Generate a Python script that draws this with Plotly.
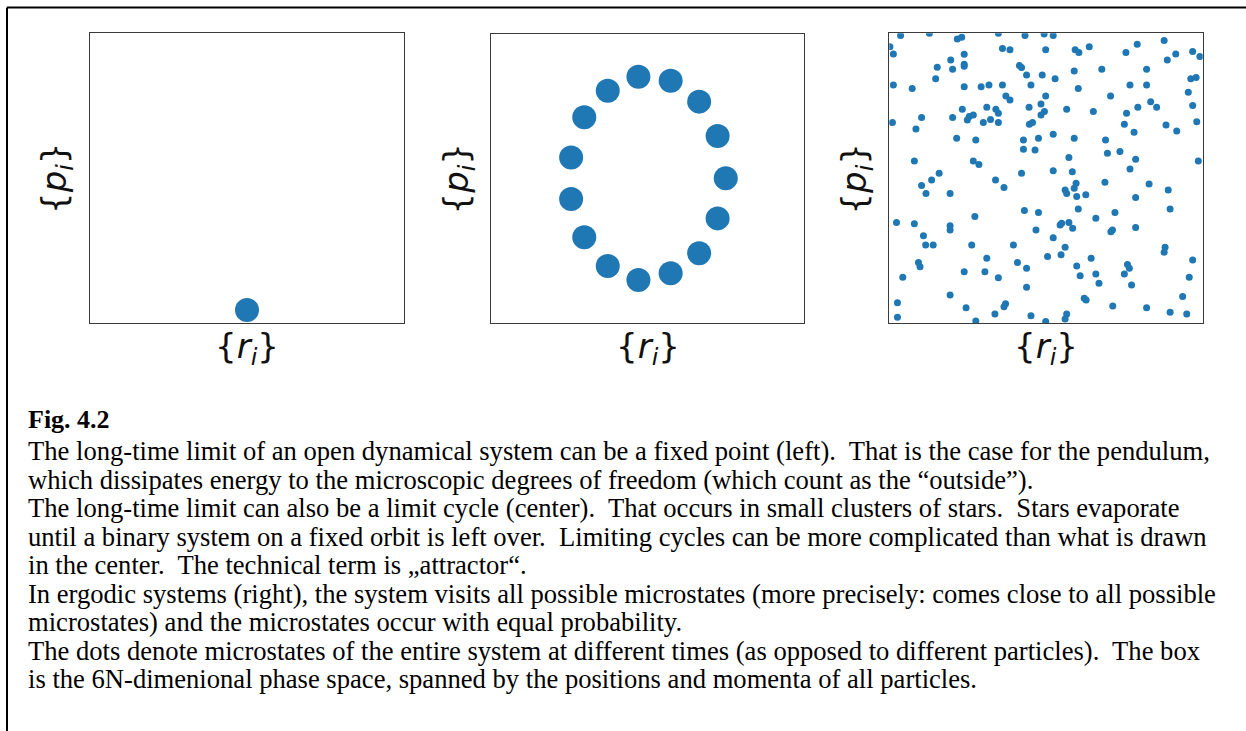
import plotly.graph_objects as go

W, H = 1246, 731

# ---------------- data ----------------
fixed_x = [0.50]
fixed_y = [0.045]

cycle_x = [0.471, 0.574, 0.665, 0.724, 0.750, 0.724, 0.665, 0.574, 0.471,
           0.373, 0.298, 0.256, 0.256, 0.298, 0.373]
cycle_y = [0.852, 0.838, 0.766, 0.647, 0.501, 0.362, 0.241, 0.172, 0.149,
           0.197, 0.297, 0.429, 0.573, 0.712, 0.804]

ergodic_x = [
    0.036, 0.128, 0.217, 0.231, 0.348, 0.433, 0.494, 0.523, 0.002, 0.013,
    0.361, 0.385, 0.499, 0.593, 0.605, 0.638, 0.755, 0.791, 0.877, 0.887,
    0.914, 0.968, 0.991, 0.239, 0.196, 0.239, 0.239, 0.153, 0.202, 0.415,
    0.422, 0.678, 0.821, 0.590, 0.438, 0.488, 0.148, 0.529, 0.013, 0.073,
    0.239, 0.293, 0.318, 0.361, 0.452, 0.603, 0.768, 0.821, 0.962, 0.979,
    0.954, 0.372, 0.385, 0.499, 0.706, 0.834, 0.853, 0.233, 0.311, 0.340,
    0.446, 0.484, 0.566, 0.651, 0.793, 0.968, 0.103, 0.202, 0.255, 0.268,
    0.249, 0.348, 0.323, 0.300, 0.348, 0.495, 0.484, 0.757, 0.010, 0.447,
    0.457, 0.750, 0.883, 0.981, 0.085, 0.917, 0.781, 0.523, 0.215, 0.276,
    0.428, 0.476, 0.590, 0.690, 0.428, 0.465, 0.696, 0.736, 0.573, 0.786,
    0.080, 0.268, 0.286, 0.986, 0.159, 0.422, 0.523, 0.584, 0.768,
    0.103, 0.135, 0.117, 0.339, 0.366, 0.194, 0.561, 0.566, 0.596, 0.590,
    0.598, 0.627, 0.688, 0.786, 0.829, 0.890, 0.896, 0.431, 0.476, 0.603,
    0.720, 0.023, 0.080, 0.194, 0.194, 0.273, 0.659, 0.109, 0.116, 0.140,
    0.263, 0.396, 0.468, 0.523, 0.545, 0.550, 0.573, 0.585, 0.707, 0.712,
    0.786, 0.880, 0.877, 0.561, 0.548, 0.505, 0.311, 0.093, 0.098, 0.409,
    0.438, 0.644, 0.598, 0.760, 0.766, 0.750, 0.968, 0.043, 0.239, 0.305,
    0.348, 0.609, 0.659, 0.669, 0.773, 0.957, 0.438, 0.194, 0.622, 0.628,
    0.936, 0.026, 0.245, 0.337, 0.366, 0.371, 0.452, 0.566, 0.561, 0.499,
    0.276, 0.713, 0.821, 0.896, 0.949, 0.026,
]
ergodic_y = [
    0.992, 1.000, 0.980, 0.986, 1.000, 0.992, 0.998, 0.992, 0.954, 0.929,
    0.948, 0.943, 0.943, 0.943, 0.934, 0.954, 0.934, 0.962, 0.975, 0.908,
    0.929, 0.937, 0.920, 0.928, 0.908, 0.893, 0.886, 0.883, 0.876, 0.889,
    0.882, 0.876, 0.876, 0.870, 0.856, 0.856, 0.843, 0.843, 0.822, 0.810,
    0.816, 0.816, 0.822, 0.822, 0.822, 0.810, 0.822, 0.822, 0.843, 0.848,
    0.797, 0.784, 0.770, 0.784, 0.784, 0.764, 0.745, 0.738, 0.745, 0.738,
    0.745, 0.756, 0.738, 0.730, 0.745, 0.751, 0.710, 0.710, 0.713, 0.718,
    0.701, 0.724, 0.703, 0.692, 0.692, 0.730, 0.718, 0.724, 0.692, 0.686,
    0.692, 0.686, 0.684, 0.695, 0.670, 0.663, 0.659, 0.652, 0.638, 0.632,
    0.632, 0.638, 0.638, 0.632, 0.600, 0.598, 0.586, 0.592, 0.572, 0.566,
    0.560, 0.560, 0.548, 0.560, 0.517, 0.517, 0.526, 0.523, 0.532,
    0.475, 0.494, 0.448, 0.494, 0.468, 0.448, 0.460, 0.448, 0.483, 0.466,
    0.437, 0.443, 0.486, 0.434, 0.480, 0.460, 0.394, 0.389, 0.382, 0.394,
    0.382, 0.348, 0.343, 0.336, 0.322, 0.368, 0.362, 0.302, 0.270, 0.270,
    0.270, 0.270, 0.322, 0.295, 0.339, 0.345, 0.348, 0.328, 0.316, 0.322,
    0.330, 0.262, 0.245, 0.262, 0.236, 0.230, 0.224, 0.210, 0.195, 0.210,
    0.190, 0.224, 0.198, 0.203, 0.190, 0.170, 0.218, 0.159, 0.178, 0.178,
    0.157, 0.164, 0.170, 0.138, 0.132, 0.159, 0.124, 0.098, 0.086, 0.080,
    0.092, 0.071, 0.054, 0.032, 0.057, 0.067, 0.026, 0.032, 0.015, 0.006,
    0.008, 0.060, 0.054, 0.038, 0.032, 0.021,
]

x_label = "{<i>r</i><sub><i>i</i></sub>}"
y_label = "{<i>p</i><sub><i>i</i></sub>}"

caption_title = "<b>Fig. 4.2</b>"
NB = "\u00a0 "
caption_lines = [
    "The long-time limit of an open dynamical system can be a fixed point (left)." + NB + "That is the case for the pendulum,",
    "which dissipates energy to the microscopic degrees of freedom (which count as the \u201coutside\u201d).",
    "The long-time limit can also be a limit cycle (center)." + NB + "That occurs in small clusters of stars." + NB + "Stars evaporate",
    "until a binary system on a fixed orbit is left over." + NB + "Limiting cycles can be more complicated than what is drawn",
    "in the center." + NB + "The technical term is \u201eattractor\u201c.",
    "In ergodic systems (right), the system visits all possible microstates (more precisely: comes close to all possible",
    "microstates) and the microstates occur with equal probability.",
    "The dots denote microstates of the entire system at different times (as opposed to different particles)." + NB + "The box",
    "is the 6N-dimenional phase space, spanned by the positions and momenta of all particles.",
]

# ---------------- layout helpers ----------------
def px(x):
    return x / W

def py(y):
    return 1 - y / H

BLUE = "#1f77b4"

panels = [  # (left, right, top, bottom) in pixels
    (90, 404, 33, 323),
    (491, 804, 34, 323),
    (889.3, 1202.7, 33.3, 323.3),
]

fig = go.Figure()

series = [
    (fixed_x, fixed_y, 24),
    (cycle_x, cycle_y, 24),
    (ergodic_x, ergodic_y, 7),
]

for i, ((xs, ys, sz), (l, r, t, b)) in enumerate(zip(series, panels), start=1):
    xa = "x" if i == 1 else f"x{i}"
    ya = "y" if i == 1 else f"y{i}"
    fig.add_trace(go.Scatter(
        x=xs, y=ys, mode="markers", xaxis=xa, yaxis=ya,
        marker=dict(color=BLUE, size=sz, line=dict(width=0)),
        showlegend=False, hoverinfo="skip", cliponaxis=True,
    ))
    axis_common = dict(showline=True, mirror=True, linecolor="#3a3a3a", linewidth=1.4,
                       showgrid=False, zeroline=False, showticklabels=False,
                       ticks="", range=[0, 1], fixedrange=True)
    key = "" if i == 1 else str(i)
    fig.update_layout(**{
        f"xaxis{key}": dict(domain=[px(l), px(r)], anchor=ya, **axis_common),
        f"yaxis{key}": dict(domain=[py(b), py(t)], anchor=xa, **axis_common),
    })
    # axis labels
    fig.add_annotation(x=px((l + r) / 2), y=py(348), xref="paper", yref="paper",
                       text=x_label, showarrow=False, xanchor="center", yanchor="middle",
                       font=dict(family="DejaVu Sans", size=34, color="#111"))
    fig.add_annotation(x=px(l - 33), y=py((t + b) / 2), xref="paper", yref="paper",
                       text=y_label, showarrow=False, textangle=-90,
                       xanchor="center", yanchor="middle",
                       font=dict(family="DejaVu Sans", size=34, color="#111"))

# caption
CAP_X = px(25.5)
fig.add_annotation(x=CAP_X, y=py(419), xref="paper", yref="paper", text=caption_title,
                   showarrow=False, xanchor="left", yanchor="middle",
                   font=dict(family="Liberation Serif", size=26, color="black"))
for k, line in enumerate(caption_lines):
    fig.add_annotation(x=CAP_X, y=py(451 + 28.5 * k), xref="paper", yref="paper", text=line,
                       showarrow=False, xanchor="left", yanchor="middle",
                       font=dict(family="Liberation Serif", size=26.6, color="black"))

# outer frame (left and top edges of the figure box)
fig.add_shape(type="line", xref="paper", yref="paper", x0=px(7), x1=px(7), y0=0, y1=py(7.5),
              line=dict(color="black", width=2))
fig.add_shape(type="line", xref="paper", yref="paper", x0=px(7), x1=1, y0=py(7.5), y1=py(7.5),
              line=dict(color="black", width=2))

fig.update_layout(
    width=W, height=H, autosize=False,
    margin=dict(l=0, r=0, t=0, b=0),
    paper_bgcolor="white", plot_bgcolor="white",
)

fig.write_html("out.html", config={"displayModeBar": False},
               post_script="document.body.style.margin='0';")
